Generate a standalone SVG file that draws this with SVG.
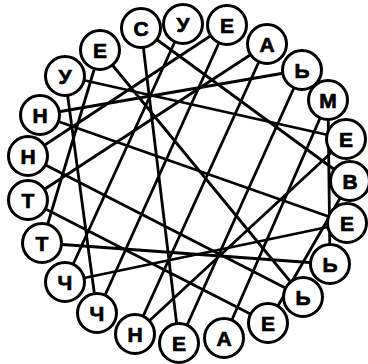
<svg xmlns="http://www.w3.org/2000/svg" width="368" height="364" viewBox="0 0 368 364">
<style>
.c line{stroke:#000;stroke-width:2.8;stroke-linecap:round}
.n circle{fill:#fff;stroke:#000;stroke-width:3}
.n text{font-family:"Liberation Sans",Arial,sans-serif;font-weight:bold;font-size:21px;text-anchor:middle;fill:#000;stroke:#000;stroke-width:0.7}
</style>
<rect width="368" height="364" fill="#fff"/>
<g id="connectors" class="c">
<line x1="183" y1="24" x2="65" y2="282"/>
<line x1="65" y1="282" x2="347" y2="223"/>
<line x1="347" y1="223" x2="40" y2="115"/>
<line x1="40" y1="115" x2="302" y2="70"/>
<line x1="302" y1="70" x2="179" y2="343"/>
<line x1="179" y1="343" x2="141" y2="28"/>
<line x1="141" y1="28" x2="350" y2="181"/>
<line x1="350" y1="181" x2="268" y2="323"/>
<line x1="268" y1="323" x2="28" y2="200"/>
<line x1="28" y1="200" x2="267" y2="44"/>
<line x1="267" y1="44" x2="135" y2="334"/>
<line x1="135" y1="334" x2="346" y2="139"/>
<line x1="346" y1="139" x2="65" y2="76"/>
<line x1="65" y1="76" x2="97" y2="313"/>
<line x1="97" y1="313" x2="227" y2="25"/>
<line x1="227" y1="25" x2="28" y2="156"/>
<line x1="28" y1="156" x2="303" y2="297"/>
<line x1="303" y1="297" x2="100" y2="50"/>
<line x1="100" y1="50" x2="42" y2="243"/>
<line x1="42" y1="243" x2="330" y2="264"/>
<line x1="330" y1="264" x2="328" y2="100"/>
<line x1="328" y1="100" x2="224" y2="338"/>
</g>
<g id="n0" class="n"><circle cx="141" cy="28" r="19.5"/><text x="141" y="35.5">С</text></g>
<g id="n1" class="n"><circle cx="183" cy="24" r="19.5"/><text x="183" y="31.5">У</text></g>
<g id="n2" class="n"><circle cx="227" cy="25" r="19.5"/><text x="227" y="32.5">Е</text></g>
<g id="n3" class="n"><circle cx="267" cy="44" r="19.5"/><text x="267" y="51.5">А</text></g>
<g id="n4" class="n"><circle cx="302" cy="70" r="19.5"/><text x="302" y="77.5">Ь</text></g>
<g id="n5" class="n"><circle cx="328" cy="100" r="19.5"/><text x="328" y="107.5">М</text></g>
<g id="n6" class="n"><circle cx="346" cy="139" r="19.5"/><text x="346" y="146.5">Е</text></g>
<g id="n7" class="n"><circle cx="350" cy="181" r="19.5"/><text x="350" y="188.5">В</text></g>
<g id="n8" class="n"><circle cx="347" cy="223" r="19.5"/><text x="347" y="230.5">Е</text></g>
<g id="n9" class="n"><circle cx="330" cy="264" r="19.5"/><text x="330" y="271.5">Ь</text></g>
<g id="n10" class="n"><circle cx="303" cy="297" r="19.5"/><text x="303" y="304.5">Ь</text></g>
<g id="n11" class="n"><circle cx="268" cy="323" r="19.5"/><text x="268" y="330.5">Е</text></g>
<g id="n12" class="n"><circle cx="224" cy="338" r="19.5"/><text x="224" y="345.5">А</text></g>
<g id="n13" class="n"><circle cx="179" cy="343" r="19.5"/><text x="179" y="350.5">Е</text></g>
<g id="n14" class="n"><circle cx="135" cy="334" r="19.5"/><text x="135" y="341.5">Н</text></g>
<g id="n15" class="n"><circle cx="97" cy="313" r="19.5"/><text x="97" y="320.5">Ч</text></g>
<g id="n16" class="n"><circle cx="65" cy="282" r="19.5"/><text x="65" y="289.5">Ч</text></g>
<g id="n17" class="n"><circle cx="42" cy="243" r="19.5"/><text x="42" y="250.5">Т</text></g>
<g id="n18" class="n"><circle cx="28" cy="200" r="19.5"/><text x="28" y="207.5">Т</text></g>
<g id="n19" class="n"><circle cx="28" cy="156" r="19.5"/><text x="28" y="163.5">Н</text></g>
<g id="n20" class="n"><circle cx="40" cy="115" r="19.5"/><text x="40" y="122.5">Н</text></g>
<g id="n21" class="n"><circle cx="65" cy="76" r="19.5"/><text x="65" y="83.5">У</text></g>
<g id="n22" class="n"><circle cx="100" cy="50" r="19.5"/><text x="100" y="57.5">Е</text></g>
</svg>
